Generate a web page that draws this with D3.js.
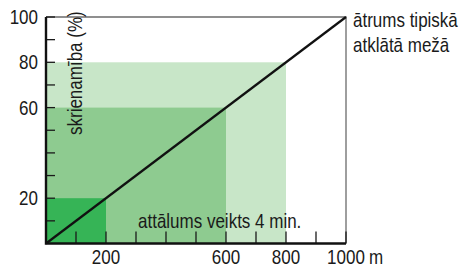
<!DOCTYPE html>
<html>
<head>
<meta charset="utf-8">
<script src="https://cdn.jsdelivr.net/npm/d3@7"></script>
<style>
  body { margin: 0; background: #fff; }
  text { font-family: "Liberation Sans", Arial, sans-serif; fill: #1a1a1a; }
</style>
</head>
<body>
<script>
// zones: distance covered (m) vs running ability (%)
var zoneDistance = [800, 600, 200];
var zonePercent = [80, 60, 20];
var zoneColors = ["#c8e6c8", "#8ecb90", "#36b456"];

// speed line: typical open forest
var lineDistance = [0, 1000];
var linePercent = [0, 100];

var xTicks = [100, 200, 300, 400, 500, 600, 700, 800, 900, 1000];
var xTickLabels = [200, 600, 800, 1000];
var yTicks = [10, 20, 30, 40, 50, 60, 70, 80, 90, 100];
var yTickLabels = [20, 60, 80, 100];

var yTitle = "skrienamība (%)";
var xTitle = "attālums veikts 4 min.";
var lineLabel = ["ātrums tipiskā", "atklātā mežā"];

var width = 468, height = 268;
var margin = {top: 17, right: 122, bottom: 24.5, left: 46};

var svg = d3.select("body")
  .append("svg")
  .attr("width", width)
  .attr("height", height);

var x = d3.scaleLinear()
  .domain([0, 1000])
  .range([margin.left, width - margin.right]);

var y = d3.scaleLinear()
  .domain([0, 100])
  .range([height - margin.bottom, margin.top]);

var squash = 0.85;

// shaded zones, biggest first
svg.selectAll("rect.zone")
  .data(zoneDistance)
  .enter()
  .append("rect")
    .attr("class", "zone")
    .attr("x", x(0))
    .attr("y", function(d, i) { return y(zonePercent[i]); })
    .attr("width", function(d) { return x(d) - x(0); })
    .attr("height", function(d, i) { return y(0) - y(zonePercent[i]); })
    .attr("fill", function(d, i) { return zoneColors[i]; });

// top and right frame
svg.append("path")
  .attr("d", "M" + x(0) + "," + y(100) + "H" + x(1000) + "V" + y(0))
  .attr("fill", "none")
  .attr("stroke", "#6b6b6b")
  .attr("stroke-width", 1.3);

// x ticks (upward) and y ticks (inward)
svg.selectAll("line.xt")
  .data(xTicks)
  .enter()
  .append("line")
    .attr("x1", function(d) { return x(d); })
    .attr("x2", function(d) { return x(d); })
    .attr("y1", y(0))
    .attr("y2", y(0) - 12)
    .attr("stroke", "#1a1a1a")
    .attr("stroke-width", 1.3);

svg.selectAll("line.yt")
  .data(yTicks)
  .enter()
  .append("line")
    .attr("x1", x(0))
    .attr("x2", x(0) + 9)
    .attr("y1", function(d) { return y(d); })
    .attr("y2", function(d) { return y(d); })
    .attr("stroke", "#1a1a1a")
    .attr("stroke-width", 1.3);

// the speed line
svg.append("path")
  .datum(d3.zip(lineDistance, linePercent))
  .attr("d", d3.line().x(function(d) { return x(d[0]); }).y(function(d) { return y(d[1]); }))
  .attr("fill", "none")
  .attr("stroke", "#111")
  .attr("stroke-width", 2.2);

// axes lines
svg.append("path")
  .attr("d", "M" + x(0) + "," + y(100) + "V" + y(0) + "H" + x(1000))
  .attr("fill", "none")
  .attr("stroke", "#111")
  .attr("stroke-width", 2.4);

// tick labels
svg.selectAll("text.yl")
  .data(yTickLabels)
  .enter()
  .append("text")
    .attr("transform", function(d) { return "translate(38," + (y(d) + 7) + ") scale(" + squash + ",1)"; })
    .attr("text-anchor", "end")
    .style("font-size", "20px")
    .text(function(d) { return d; });

svg.selectAll("text.xl")
  .data(xTickLabels)
  .enter()
  .append("text")
    .attr("transform", function(d) { return "translate(" + x(d) + ",264) scale(" + squash + ",1)"; })
    .attr("text-anchor", "middle")
    .style("font-size", "20px")
    .text(function(d) { return d; });

svg.append("text")
  .attr("transform", "translate(" + (x(1000) + 23) + ",264) scale(" + squash + ",1)")
  .style("font-size", "20px")
  .text("m");

// titles
svg.append("text")
  .attr("transform", "translate(82,135) rotate(-90) scale(" + squash + ",1)")
  .style("font-size", "20px")
  .text(yTitle);

svg.append("text")
  .attr("transform", "translate(138,228) scale(" + squash + ",1)")
  .style("font-size", "20px")
  .text(xTitle);

svg.selectAll("text.ll")
  .data(lineLabel)
  .enter()
  .append("text")
    .attr("transform", function(d, i) { return "translate(353," + (27 + i * 25) + ") scale(" + squash + ",1)"; })
    .style("font-size", "20px")
    .text(function(d) { return d; });
</script>
</body>
</html>
